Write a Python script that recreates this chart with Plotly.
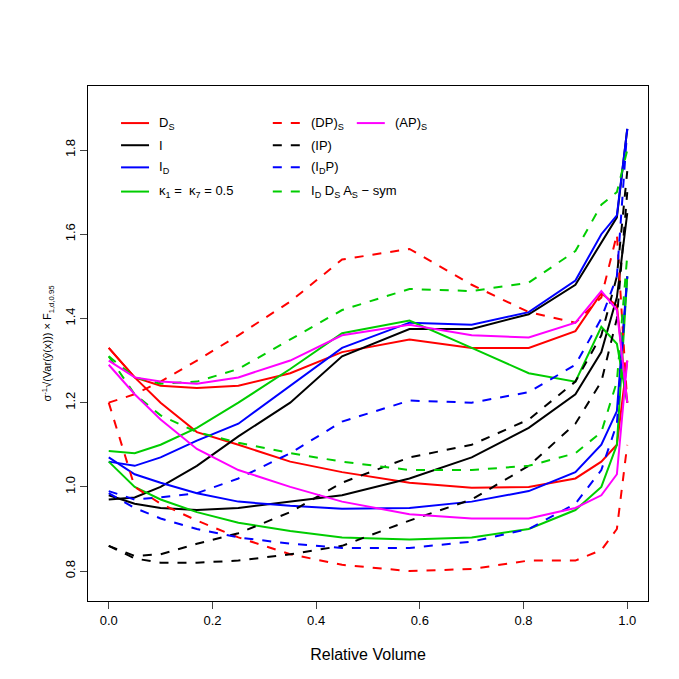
import plotly.graph_objects as go

x = [0, 0.05, 0.1, 0.17, 0.25, 0.35, 0.45, 0.58, 0.7, 0.81, 0.9, 0.95, 0.98, 1.0]

ds_up  = [1.33,1.26,1.24,1.235,1.24,1.27,1.32,1.35,1.33,1.33,1.37,1.46,1.43,1.2]
ds_lo  = [1.33,1.26,1.2,1.13,1.1,1.06,1.035,1.01,0.998,1.0,1.02,1.06,1.1,1.3]
i_up   = [0.97,0.975,1.0,1.05,1.12,1.2,1.31,1.375,1.375,1.41,1.48,1.58,1.64,1.85]
i_lo   = [0.98,0.96,0.95,0.945,0.95,0.965,0.98,1.02,1.07,1.14,1.22,1.32,1.45,1.65]
id_up  = [1.06,1.05,1.07,1.11,1.15,1.24,1.33,1.39,1.385,1.415,1.49,1.6,1.645,1.85]
id_lo  = [1.07,1.03,1.01,0.985,0.965,0.955,0.948,0.95,0.965,0.99,1.035,1.1,1.18,1.5]
k_up   = [1.085,1.08,1.1,1.14,1.2,1.28,1.365,1.395,1.33,1.27,1.25,1.38,1.34,1.2]
k_lo   = [1.06,1.0,0.97,0.94,0.915,0.895,0.88,0.875,0.88,0.9,0.945,1.0,1.1,1.5]
ap_up  = [1.3,1.26,1.25,1.245,1.26,1.3,1.36,1.385,1.36,1.355,1.39,1.465,1.42,1.2]
ap_lo  = [1.29,1.22,1.16,1.09,1.04,1.0,0.965,0.935,0.925,0.925,0.95,0.98,1.03,1.3]
dp_up  = [1.2,1.22,1.25,1.3,1.36,1.44,1.54,1.565,1.48,1.415,1.39,1.45,1.6,1.2]
dp_lo  = [1.2,1.0,0.96,0.92,0.88,0.84,0.815,0.8,0.805,0.825,0.825,0.85,0.9,1.1]
ip_up  = [0.86,0.836,0.84,0.865,0.89,0.94,1.01,1.07,1.1,1.16,1.25,1.36,1.5,1.75]
ip_lo  = [0.86,0.83,0.82,0.82,0.825,0.84,0.86,0.92,0.97,1.05,1.15,1.25,1.4,1.7]
idp_up = [0.99,0.97,0.975,0.985,1.02,1.08,1.155,1.205,1.2,1.225,1.29,1.4,1.5,1.85]
idp_lo = [0.985,0.95,0.925,0.9,0.88,0.865,0.855,0.855,0.87,0.9,0.96,1.04,1.15,1.5]
sym_up = [1.31,1.26,1.245,1.25,1.28,1.35,1.42,1.47,1.465,1.485,1.56,1.67,1.7,1.8]
sym_lo = [1.31,1.22,1.17,1.13,1.105,1.08,1.06,1.04,1.04,1.05,1.08,1.13,1.25,1.55]

series = [
    (ds_up, ds_lo, "red", "solid", "D<sub>S</sub>"),
    (i_up, i_lo, "black", "solid", "I"),
    (id_up, id_lo, "blue", "solid", "I<sub>D</sub>"),
    (k_up, k_lo, "#00CD00", "solid", "κ<sub>1</sub> =  κ<sub>7</sub> = 0.5"),
    (dp_up, dp_lo, "red", "dash", "(DP)<sub>S</sub>"),
    (ip_up, ip_lo, "black", "dash", "(IP)"),
    (idp_up, idp_lo, "blue", "dash", "(I<sub>D</sub>P)"),
    (sym_up, sym_lo, "#00CD00", "dash", "I<sub>D</sub> D<sub>S</sub> A<sub>S</sub> − sym"),
    (ap_up, ap_lo, "magenta", "solid", "(AP)<sub>S</sub>"),
]

fig = go.Figure()
for up, lo, c, d, name in series:
    for ys in (up, lo):
        fig.add_trace(go.Scatter(x=x, y=ys, mode="lines", showlegend=False,
                                 line=dict(color=c, dash=d, width=2)))

# manual legend (R-style, column-major)
cols = [0.059, 0.33, 0.48]
rows = [0.928, 0.885, 0.842, 0.795]
for k, (up, lo, c, d, name) in enumerate(series):
    cx, ry = cols[k // 4], rows[k % 4]
    if k == 8:
        cx = 0.48
    fig.add_shape(type="line", xref="paper", yref="paper", x0=cx, x1=cx + 0.05,
                  y0=ry, y1=ry, line=dict(color=c, dash=d, width=2))
    fig.add_annotation(xref="paper", yref="paper", x=cx + 0.065, y=ry, text=name,
                       showarrow=False, xanchor="left", yanchor="middle",
                       font=dict(size=13, color="black"))

fig.update_layout(
    width=679, height=679, plot_bgcolor="white", paper_bgcolor="white",
    margin=dict(l=80, r=39, t=78, b=86),
    font=dict(family="Liberation Sans, Arial", size=13, color="black"),
    xaxis=dict(range=[-0.04, 1.04], tickvals=[0, 0.2, 0.4, 0.6, 0.8, 1.0],
               ticktext=["0.0", "0.2", "0.4", "0.6", "0.8", "1.0"], automargin=False,
               showgrid=False, zeroline=False, showline=True, mirror=True,
               linecolor="black", ticks="outside", ticklen=7, tickfont=dict(size=13),
               title=dict(text="Relative Volume", standoff=22)),
    yaxis=dict(range=[0.729, 1.952], tickvals=[0.8, 1.0, 1.2, 1.4, 1.6, 1.8],
               ticktext=["0.8", "1.0", "1.2", "1.4", "1.6", "1.8"], tickangle=-90,
               automargin=False, tickfont=dict(size=13),
               showgrid=False, zeroline=False, showline=True, mirror=True,
               linecolor="black", ticks="outside", ticklen=7,
               title=dict(text="σ<sup>-1</sup>√(Var(ŷ(x))) × F<sub>1,d,0.95</sub>",
                          standoff=8, font=dict(size=11))),
)
fig.write_html("out.html")
